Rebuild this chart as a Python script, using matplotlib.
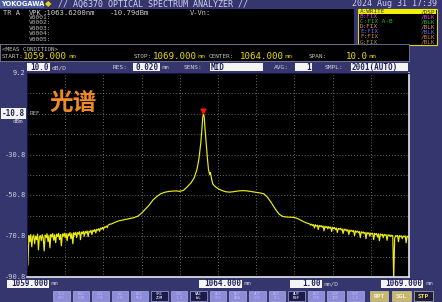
import matplotlib
matplotlib.use('Agg')
import matplotlib.pyplot as plt
import matplotlib.transforms as mtransforms
from matplotlib.patches import Rectangle
import numpy as np

# ---- trace data (nm, dBm) ----
# noisy floor on the short-wavelength side, 0.025 nm sampling
left_wl = np.round(np.arange(1059.0, 1061.2001, 0.025), 3)
left_dbm = [-72.0, -85.0, -70.5, -73.5, -70.0, -76.0, -71.0, -70.2, -74.5, -70.8,
            -72.5, -69.8, -77.5, -71.0, -70.5, -73.0, -70.0, -71.8, -78.0, -70.3,
            -71.5, -69.6, -73.5, -70.4, -76.5, -70.0, -71.2, -69.5, -72.8, -70.1,
            -74.0, -69.8, -71.0, -69.4, -72.5, -70.0, -75.5, -69.7, -70.8, -69.3,
            -71.5, -69.5, -73.0, -69.6, -70.5, -69.0, -72.0, -69.4, -74.5, -69.1,
            -70.2, -68.9, -71.5, -69.0, -69.8, -68.6, -72.5, -68.8, -69.6, -68.4,
            -70.8, -68.5, -69.3, -68.2, -71.0, -68.3, -68.9, -67.9, -70.0, -67.8,
            -68.5, -67.5, -69.2, -67.4, -67.9, -67.1, -68.4, -66.8, -67.3, -66.5,
            -67.5, -66.2, -66.5, -65.8, -66.6, -65.3, -65.2, -64.8, -64.9]

# shoulder, laser line and pedestal
mid_wl = [1061.3, 1061.4, 1061.6, 1061.8, 1061.9, 1062.0, 1062.1, 1062.2, 1062.3,
          1062.4, 1062.5, 1062.6, 1062.7, 1062.8, 1062.9, 1063.0, 1063.1, 1063.2,
          1063.3, 1063.38, 1063.45, 1063.5, 1063.55, 1063.58, 1063.6, 1063.62,
          1063.64, 1063.66, 1063.69, 1063.72, 1063.75, 1063.78, 1063.8, 1063.83,
          1063.86, 1063.9, 1063.95, 1064.0, 1064.1, 1064.2, 1064.3, 1064.4, 1064.5,
          1064.6, 1064.7, 1064.8, 1064.9, 1065.0, 1065.1, 1065.2, 1065.3, 1065.4,
          1065.5, 1065.6, 1065.7, 1065.8, 1065.9, 1066.0, 1066.1, 1066.2, 1066.3]
mid_dbm = [-64.0, -63.3, -62.5, -61.7, -61.0, -59.5, -57.5, -55.5, -53.0,
           -51.3, -50.0, -49.3, -48.9, -48.7, -48.6, -48.8, -48.3, -46.5,
           -44.5, -42.0, -38.0, -33.0, -25.0, -18.0, -12.5, -10.79,
           -12.5, -18.0, -25.0, -32.0, -38.0, -40.5, -39.5, -42.5,
           -45.0, -46.0, -46.8, -47.5, -48.4, -49.0, -49.2, -49.0, -48.7,
           -48.5, -48.5, -48.7, -49.0, -49.3, -49.6, -50.0, -51.8, -54.5,
           -57.5, -60.0, -61.2, -61.4, -61.5, -61.6, -62.3, -63.3, -64.2]

# noisy floor on the long-wavelength side
right_wl = np.round(np.arange(1066.4, 1069.0001, 0.025), 3)
right_dbm = [-64.8, -65.4, -64.9, -65.6, -65.1, -66.8, -65.2, -65.9, -65.4, -67.5,
             -65.5, -66.1, -65.6, -66.4, -65.8, -68.2, -65.9, -66.6, -66.0, -67.2,
             -66.1, -66.9, -66.3, -68.5, -66.4, -67.1, -66.5, -67.6, -66.8, -69.0,
             -67.0, -67.4, -66.9, -67.8, -67.2, -69.5, -67.3, -67.9, -67.4, -68.3,
             -67.6, -70.0, -67.8, -68.4, -67.9, -68.6, -68.0, -70.5, -68.2, -68.8,
             -68.3, -69.1, -68.5, -71.5, -68.6, -69.2, -68.7, -69.5, -68.9, -72.0,
             -69.0, -69.6, -69.1, -70.8, -69.2, -69.8, -69.3, -72.5, -69.4, -70.0,
             -69.5, -71.2, -69.6, -73.0, -69.7, -70.3, -69.8, -71.5, -69.9, -70.4,
             -70.0, -72.8, -70.1, -70.6, -70.2, -71.0, -70.3, -70.6, -92.0, -71.8,
             -70.5, -70.9, -70.4, -73.5, -70.5, -71.0, -70.6, -72.0, -70.7, -71.1,
             -70.6, -74.0, -70.8, -71.2, -70.9]

peak_wl = 1063.62
peak_dbm = -10.79

y_labels = [9.2, -30.8, -50.8, -70.8, -90.8]
ref_level = -10.8

trace_names = ['A:WRITE', 'B:FIX', 'C:FIX A-B', 'D:FIX', 'E:FIX', 'F:FIX', 'G:FIX']
trace_modes = ['/DSP', '/BLK', '/BLK', '/BLK', '/BLK', '/BLK', '/BLK']
trace_colors = ['#303030', '#e040e0', '#20c020', '#e09080', '#6070f0', '#e08020', '#b09060']

buttons = ['TLS\nSYC', 'BSC\nCOR', 'LVL\nSHF', 'WL\nSHF', 'NOI\nMSK', 'SRC\nZOM',
           'SPC\n1-3', 'VAC\nWL', 'AUT\nOFS', 'AUT\nANA', 'AUT\nSRC', 'AUT\nSCL',
           'AUT\nREF', 'AUT\nCTR', 'SWP\nINT', 'SWP\n1-5']
dark_buttons = [5, 7, 12]

W, H = 442, 302
BG = '#36366e'
MONO = 'DejaVu Sans Mono'


def fx(x):
    return x / W


def fy(y):
    return 1 - y / H


def rect(x0, y0, x1, y1, fc, ec='none', lw=0.6):
    fig.add_artist(Rectangle((fx(x0), fy(y1)), (x1 - x0) / W, (y1 - y0) / H,
                             transform=fig.transFigure, fc=fc, ec=ec, lw=lw))


def txt(x, y, s, size, color, ha='left', weight='normal', family=MONO):
    fig.text(fx(x), fy(y), s, fontsize=size, color=color, ha=ha, va='center',
             family=family, weight=weight)


def boxed(x0, x1, y, s, size=5.5):
    rect(x0, y - 4, x1, y + 4, '#f4f4f4')
    txt(x1 - 1, y, s, size, '#20205a', ha='right', weight='bold')


fig = plt.figure(figsize=(4.42, 3.02), dpi=100)
fig.patch.set_facecolor(BG)

# title bar
rect(0, 0, 44, 8, '#4a5aa0')
txt(1, 4, 'YOKOGAWA', 4.8, 'white', weight='bold', family='DejaVu Sans')
txt(45, 4, '\u25c6', 6, '#f0d000', family='DejaVu Sans')
txt(58, 4, '// AQ6370 OPTICAL SPECTRUM ANALYZER //', 6, '#d0d0f0')
txt(437, 4, '2024 Aug 31 17:39', 6, '#d0d0f0', ha='right')

# marker panel
rect(0, 9, 354, 44, 'black')
txt(3, 13, 'TR A', 5, '#d0d0d0')
txt(29, 13, 'VPK', 5, '#d0d0d0')
txt(42, 13, ':%.4fnm' % peak_wl, 5.2, '#d0d0d0')
txt(110, 13, '%.2fdBm' % peak_dbm, 5.2, '#d0d0d0')
txt(190, 13, 'V-Vn:', 5, '#d0d0d0')
for i in range(5):
    txt(29, 17.5 + 5.4 * i, 'V000%d:' % (i + 1), 4.5, '#b8b8b8')

# trace legend
rect(358, 9, 437, 45, 'black', ec='#e8d800', lw=0.8)
for i, (n, m, c) in enumerate(zip(trace_names, trace_modes, trace_colors)):
    y = 11.5 + 5.1 * i
    if i == 0:
        rect(359, y - 2.4, 436, y + 2.4, '#f0f000')
    txt(360, y, n, 4.3, c)
    txt(435, y, m, 4.3, c, ha='right')

# measurement conditions
rect(0, 44, 409, 61, 'black', ec='#9090b0', lw=0.5)
txt(2, 49.5, '<MEAS CONDITION>', 4.2, '#c0c0c0')
txt(2, 56.5, 'START:', 4.3, '#c0c0c0')
txt(23, 56.5, '1059.000', 6.6, '#e8d800')
txt(68, 56.5, 'nm', 4.6, '#e8d800')
txt(134, 56.5, 'STOP:', 4.3, '#c0c0c0')
txt(153, 56.5, '1069.000', 6.6, '#e8d800')
txt(197, 56.5, 'nm', 4.6, '#e8d800')
txt(209, 56.5, 'CENTER:', 4.3, '#c0c0c0')
txt(240, 56.5, '1064.000', 6.6, '#e8d800')
txt(284, 56.5, 'nm', 4.6, '#e8d800')
txt(309, 56.5, 'SPAN:', 4.3, '#c0c0c0')
txt(346, 56.5, '10.0', 6.6, '#e8d800')
txt(368, 56.5, 'nm', 4.6, '#e8d800')

# setting row
boxed(27, 50, 67.5, '10.0')
txt(52, 67.5, 'dB/D', 4.5, '#d0d0e0')
txt(113, 67.5, 'RES:', 4.5, '#d0d0e0')
boxed(133, 160, 67.5, '0.020')
txt(161, 67.5, 'nm', 4.5, '#d0d0e0')
txt(184, 67.5, 'SENS:', 4.5, '#d0d0e0')
rect(210, 63.5, 263, 71.5, '#f4f4f4')
txt(211, 67.5, 'MID', 5.5, '#20205a', weight='bold')
txt(274, 67.5, 'AVG:', 4.5, '#d0d0e0')
boxed(295, 312, 67.5, '1')
txt(325, 67.5, 'SMPL:', 4.5, '#d0d0e0')
rect(351, 63.5, 408, 71.5, '#f4f4f4')
txt(352, 67.5, '2001(AUTO)', 5.5, '#20205a', weight='bold')

# spectrum axes
ax = fig.add_axes([fx(27), fy(277), 382 / W, 204 / H])
ax.set_facecolor('black')
ax.set_xlim(1059, 1069)
ax.set_ylim(-90.8, 9.2)
ax.set_xticks(np.arange(1059, 1069.5, 1))
ax.set_yticks(np.arange(-90.8, 9.3, 10))
ax.tick_params(length=0, labelbottom=False, labelleft=False)
ax.grid(True, color='#8a8a8a', lw=0.6, ls=(0, (1, 2.5)))
for s in ['left', 'top']:
    ax.spines[s].set_color('#141440')
for s in ['bottom', 'right']:
    ax.spines[s].set_color('#e8e8e8')
    ax.spines[s].set_linewidth(1.2)

wl = np.concatenate([left_wl, mid_wl, right_wl])
dbm = np.concatenate([left_dbm, mid_dbm, right_dbm])
ax.plot(wl, dbm, color='#eeee10', lw=0.85)
ax.plot([peak_wl], [peak_dbm + 1.5], marker='v', color='#ff1010', ms=3.5, ls='none')

# level scale on the left
ytrans = mtransforms.blended_transform_factory(ax.transAxes, ax.transData)
for v in y_labels:
    ax.text(-0.003, v, '%.1f' % v, transform=ytrans, ha='right', va='center',
            fontsize=5, family=MONO, color='#d0d0e0', clip_on=False)
ax.text(-0.006, ref_level, '%.1f' % ref_level, transform=ytrans, ha='right', va='center',
        fontsize=5.5, family=MONO, weight='bold', color='#20205a', clip_on=False,
        bbox=dict(fc='#f4f4f4', ec='none', pad=0.6))
ax.text(-0.01, ref_level - 3.6, 'dBm', transform=ytrans, ha='right', va='center',
        fontsize=4.2, family=MONO, color='#d0d0e0', clip_on=False)
ax.text(0.008, ref_level, 'REF', transform=ytrans, ha='left', va='center',
        fontsize=4.2, family=MONO, color='#b0b0b0')

ax.text(0.06, 0.855, '光谱', transform=ax.transAxes, fontsize=17, weight='bold',
        color='#f08a28', family=['Noto Sans CJK SC', 'DejaVu Sans'], va='center')

# wavelength scale below
boxed(7, 49, 283.5, '1059.000')
txt(50, 283.5, 'nm', 4.5, '#d0d0e0')
boxed(199, 242, 283.5, '1064.000')
txt(243, 283.5, 'nm', 4.5, '#d0d0e0')
boxed(290, 322, 283.5, '1.00')
txt(323, 283.5, 'nm/D', 4.5, '#d0d0e0')
boxed(381, 423, 283.5, '1069.000')
txt(425, 283.5, 'nm', 4.5, '#d0d0e0')

# soft keys
for i, b in enumerate(buttons):
    x0 = 53 + 19.6 * i
    dark = i in dark_buttons
    rect(x0, 291, x0 + 16.5, 301, '#1c1c4c' if dark else '#8c8cd8', ec='#c0c0f0', lw=0.4)
    fig.text(fx(x0 + 8.25), fy(296), b, fontsize=2.8, family=MONO, ha='center', va='center',
             color='white' if dark else '#b8b8f8', linespacing=0.9)
for x0, x1, s, dark in [(370, 388, 'RPT', False), (392, 411, 'SGL', False), (414, 433, 'STP', True)]:
    rect(x0, 291, x1, 301, '#1c1c3c' if dark else '#c8b868', ec='#e0e0c0', lw=0.4)
    txt((x0 + x1) / 2, 296, s, 4.5, '#f0e040' if dark else '#f0f0f0', ha='center', weight='bold')

fig.savefig('out.png', dpi=100, facecolor=fig.get_facecolor())
